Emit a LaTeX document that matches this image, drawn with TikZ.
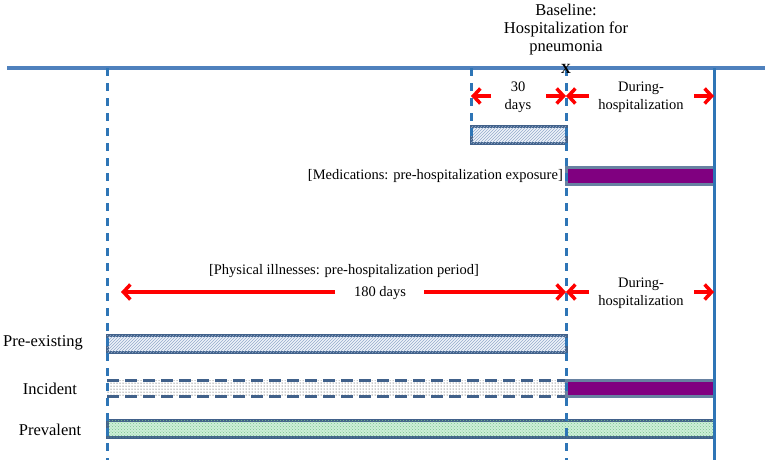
\documentclass[tikz,border=0pt]{standalone}
\usepackage{fontspec}
\setmainfont{Liberation Serif}
\usetikzlibrary{arrows.meta,patterns}
\definecolor{axisblue}{HTML}{4F81BD}
\definecolor{dashblue}{HTML}{2E75B6}
\definecolor{barline}{HTML}{41618A}
\definecolor{hatchbg}{HTML}{EEF3F9}
\definecolor{hatchln}{HTML}{93AACB}
\definecolor{purp}{HTML}{800080}
\definecolor{greenbg}{HTML}{CDEFD8}
\definecolor{greenln}{HTML}{7CC290}
\definecolor{arrred}{HTML}{FF0000}
\tikzset{
  axisline/.style={draw=axisblue, line width=3.5pt},
  vdash/.style={draw=dashblue, line width=3pt, dash pattern=on 8pt off 7pt},
  vsolid/.style={draw=dashblue, line width=3pt},
  hatchbar/.style={draw=barline, line width=3pt, fill=hatchbg, postaction={pattern=north east lines, pattern color=hatchln}},
  purpbar/.style={draw=barline!80, line width=3pt, fill=purp},
  greenbar/.style={draw=barline, line width=3pt, fill=greenbg, postaction={pattern=crosshatch dots, pattern color=greenln}},
  redarrow/.style={draw=arrred, line width=3.5pt, -{Straight Barb[length=7pt,width=15pt]}},
  small/.style={font=\fontsize{14.5}{17.5}\selectfont, align=center, inner sep=0pt},
  big/.style={font=\fontsize{16.5}{18}\selectfont, align=center, inner sep=0pt},
}
\begin{document}
\begin{tikzpicture}[x=1pt,y=-1pt]
\useasboundingbox (0,0) rectangle (765,464);

% coordinates
\coordinate (axL) at (7,68);
\coordinate (axR) at (765,68);
\coordinate (v1t) at (107,68);  \coordinate (v1b) at (107,460);
\coordinate (v2t) at (471,68);  \coordinate (v2b) at (471,143);
\coordinate (v3t) at (566,68);  \coordinate (v3b) at (566,460);
\coordinate (v4t) at (714,68);  \coordinate (v4b) at (714,460);

% bars
\draw[hatchbar] (471,126) rectangle (566,143);
\draw[purpbar] (566,167) rectangle (714,184);
\draw[hatchbar] (107,335) rectangle (566,352);
\fill[white] (107,380) rectangle (566,396);
\fill[pattern=dots, pattern color=black!85] (107,380) rectangle (566,396);
\draw[draw=barline, line width=3pt, dash pattern=on 12pt off 6pt] (107,380) -- (566,380);
\draw[draw=barline, line width=3pt, dash pattern=on 12pt off 6pt] (107,396) -- (566,396);
\draw[purpbar] (566,380) rectangle (714,396);
\draw[greenbar] (107,420) rectangle (714,437);

% axis and verticals
\draw[axisline] (axL) -- (axR);
\draw[vdash] (v1t) -- (v1b);
\draw[vdash] (v2t) -- (v2b);
\draw[vdash] (v3t) -- (v3b);
\draw[vsolid] (v4t) -- (v4b);

% baseline
\node[big] (title) at (566,30) {Baseline:\\Hospitalization for\\pneumonia};
\node[font=\fontsize{14}{14}\selectfont\bfseries, inner sep=0pt] (xmark) at (566,69) {X};

% 30 days
\node[small] (t30) at (518,97) {30\\days};
\coordinate (a30l) at (471,96); \coordinate (a30ls) at (491,96);
\coordinate (a30r) at (566,96); \coordinate (a30rs) at (546,96);
\draw[redarrow] (a30ls) -- (a30l);
\draw[redarrow] (a30rs) -- (a30r);

% during 1
\node[small] (d1) at (641,97) {During-\\hospitalization};
\coordinate (d1l) at (566,96); \coordinate (d1ls) at (589,96);
\coordinate (d1r) at (714,96); \coordinate (d1rs) at (694,96);
\draw[redarrow] (d1ls) -- (d1l);
\draw[redarrow] (d1rs) -- (d1r);

% medications label
\node[small, anchor=east] (med) at (563,176) {[Medications: pre-hospitalization exposure]};

% physical illnesses
\node[small] (phys) at (344,271) {[Physical illnesses: pre-hospitalization period]};
\node[small] (d180) at (380,293) {180 days};
\coordinate (p1l) at (121,292); \coordinate (p1ls) at (335,292);
\coordinate (p1r) at (566,292); \coordinate (p1rs) at (424,292);
\draw[redarrow] (p1ls) -- (p1l);
\draw[redarrow] (p1rs) -- (p1r);

% during 2
\node[small] (d2) at (641,293) {During-\\hospitalization};
\coordinate (d2l) at (566,292); \coordinate (d2ls) at (589,292);
\coordinate (d2r) at (714,292); \coordinate (d2rs) at (694,292);
\draw[redarrow] (d2ls) -- (d2l);
\draw[redarrow] (d2rs) -- (d2r);

% row labels
\node[big] (lpre) at (43,343) {Pre-existing};
\node[big] (linc) at (50,389) {Incident};
\node[big] (lprev) at (50,430) {Prevalent};
\end{tikzpicture}
\end{document}
